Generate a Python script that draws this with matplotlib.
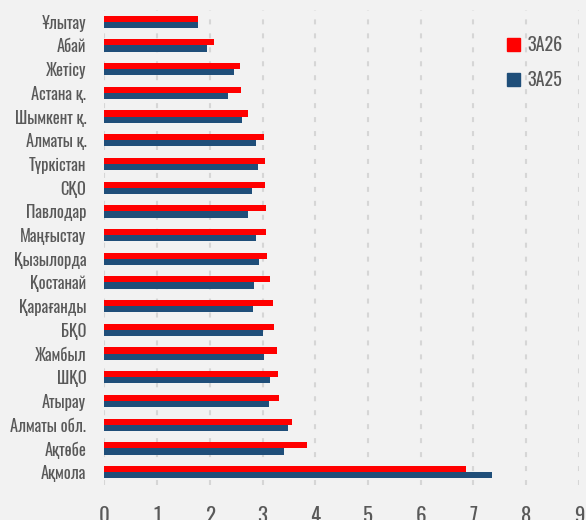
import numpy as np
import matplotlib
matplotlib.use("Agg")
import matplotlib.pyplot as plt
from matplotlib.patches import Patch

regions = ["Ұлытау", "Абай", "Жетісу", "Астана қ.", "Шымкент қ.", "Алматы қ.", "Түркістан",
           "СҚО", "Павлодар", "Маңғыстау", "Қызылорда", "Қостанай", "Қарағанды", "БҚО",
           "Жамбыл", "ШҚО", "Атырау", "Алматы обл.", "Ақтөбе", "Ақмола"]
za26 = [1.78, 2.08, 2.58, 2.59, 2.72, 3.02, 3.04, 3.04, 3.06, 3.07,
        3.09, 3.14, 3.20, 3.22, 3.28, 3.30, 3.32, 3.56, 3.84, 6.86]
za25 = [1.78, 1.95, 2.46, 2.35, 2.62, 2.88, 2.92, 2.80, 2.72, 2.88,
        2.93, 2.83, 2.81, 3.00, 3.02, 3.14, 3.12, 3.48, 3.40, 7.35]
x_ticks = list(range(0, 10))

font = ["Oswald", "Roboto Condensed", "DejaVu Sans"]
red = "#ff0000"
blue = "#1f4e79"
bg = "#f2f2f2"
txt = "#595959"

fig = plt.figure(figsize=(5.86, 5.20), dpi=100, facecolor=bg)
ax = fig.add_axes([0.178, 0.067, 0.81, 0.914], facecolor=bg)

y = np.arange(len(regions))
h = 0.26
ax.barh(y - h / 2, za26, height=h, color=red, zorder=3)
ax.barh(y + h / 2, za25, height=h, color=blue, zorder=3)

ax.set_xlim(0, 9)
ax.set_ylim(len(regions) - 0.45, -0.5)
ax.set_xticks(x_ticks)
ax.set_yticks(y)
ax.set_yticklabels(regions, family=font, fontsize=11.8, color=txt, fontweight="light")
ax.set_xticklabels([str(t) for t in x_ticks], family=font, fontsize=15, color=txt, fontweight="light")
ax.tick_params(axis="x", length=0, pad=15)
ax.tick_params(axis="y", length=0, pad=13)
for s in ax.spines.values():
    s.set_visible(False)
ax.grid(axis="x", color="#d6d6d6", linestyle=(0, (2.4, 4.3)), linewidth=1.5, zorder=0)

handles = [Patch(color=red, label="ЗА26"), Patch(color=blue, label="ЗА25")]
leg = ax.legend(handles=handles, loc="upper right", bbox_to_anchor=(1.0, 0.98), frameon=False,
                prop={"family": font, "size": 13, "weight": "light"}, labelcolor=txt,
                handlelength=0.75, handleheight=0.75, handletextpad=0.4, labelspacing=0.95)

fig.savefig("out.png", dpi=100, facecolor=bg)
